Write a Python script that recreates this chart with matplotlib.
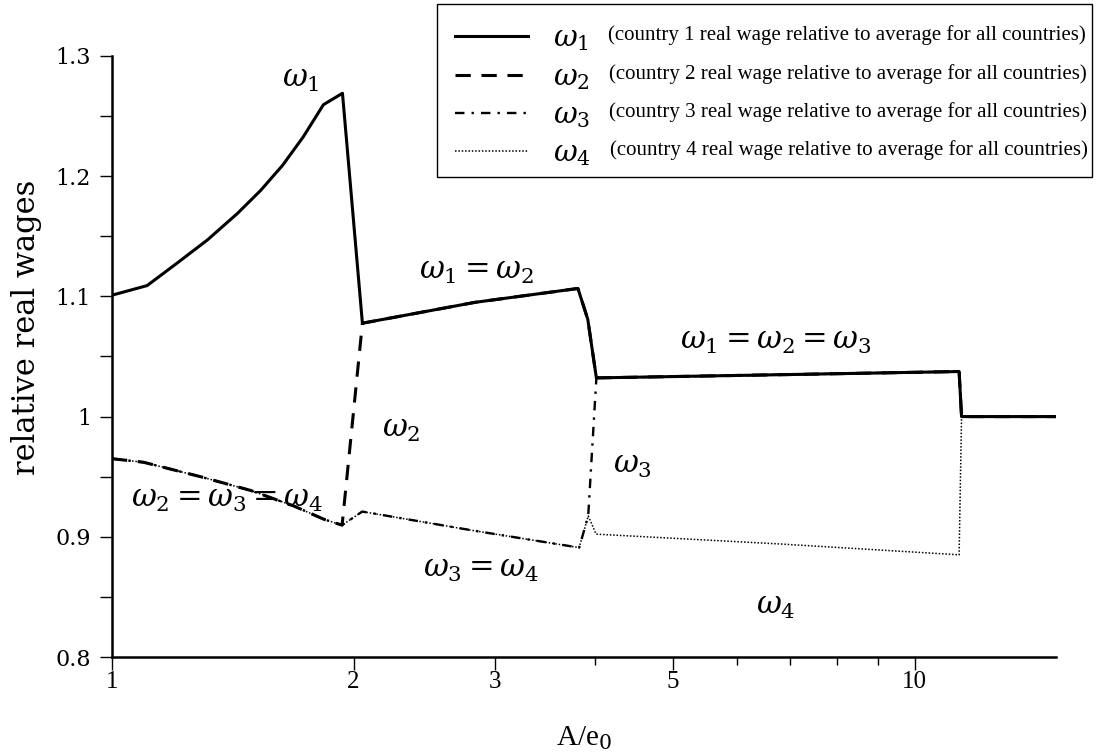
import matplotlib
matplotlib.use('Agg')
import matplotlib.pyplot as plt
from matplotlib.ticker import FixedLocator, NullFormatter, FixedFormatter
from matplotlib.patches import Rectangle

# segments (x = A/e0, y = relative real wage)
x_w1_alone = [1.0, 1.106, 1.207, 1.315, 1.433, 1.531, 1.631, 1.732, 1.834, 1.937]
y_w1_alone = [1.101, 1.109, 1.128, 1.147, 1.169, 1.188, 1.209, 1.233, 1.2595, 1.269]

x_w234 = [1.0, 1.095, 1.289, 1.488, 1.685, 1.836, 1.935]
y_w234 = [0.965, 0.962, 0.950, 0.9386, 0.9256, 0.9146, 0.9097]

x_w12 = [2.051, 2.83, 3.806, 3.915, 4.013]
y_w12 = [1.0777, 1.095, 1.1066, 1.081, 1.0322]

x_w34 = [2.05, 2.83, 3.82, 3.92]
y_w34 = [0.921, 0.905, 0.891, 0.9174]

x_w123 = [4.013, 7.0, 11.36]
y_w123 = [1.0322, 1.035, 1.0375]

x_w4_alone = [4.01, 6.81, 11.36]
y_w4_alone = [0.9022, 0.894, 0.885]

x_all = [11.44, 15.0]
y_all = [1.0, 1.0]

series_x = {
    1: x_w1_alone + x_w12 + x_w123 + x_all,
    2: x_w234 + x_w12 + x_w123 + x_all,
    3: x_w234 + x_w34 + x_w123 + x_all,
    4: x_w234 + x_w34 + x_w4_alone + x_all,
}
series_y = {
    1: y_w1_alone + y_w12 + y_w123 + y_all,
    2: y_w234 + y_w12 + y_w123 + y_all,
    3: y_w234 + y_w34 + y_w123 + y_all,
    4: y_w234 + y_w34 + y_w4_alone + y_all,
}

desc = ['(country %d real wage relative to average for all countries)' % i for i in range(1, 5)]

x_major = [1, 2, 3, 5, 10]
x_minor = [4, 6, 7, 8, 9]
y_major = [0.8, 0.9, 1.0, 1.1, 1.2, 1.3]
y_labels = ['0.8', '0.9', '1', '1.1', '1.2', '1.3']
y_minor = [0.85, 0.95, 1.05, 1.15, 1.25]

annots = [
    (r'$\omega_1$', 1.718, 1.281),
    (r'$\omega_1 = \omega_2$', 2.846, 1.1215),
    (r'$\omega_1 = \omega_2 = \omega_3$', 6.71, 1.0636),
    (r'$\omega_2$', 2.295, 0.990),
    (r'$\omega_3$', 4.45, 0.960),
    (r'$\omega_2 = \omega_3 = \omega_4$', 1.393, 0.9322),
    (r'$\omega_3 = \omega_4$', 2.879, 0.8736),
    (r'$\omega_4$', 6.72, 0.843),
]

plt.rcParams['mathtext.fontset'] = 'dejavuserif'
plt.rcParams['font.family'] = 'DejaVu Serif'

fig = plt.figure(figsize=(11.01, 7.54), dpi=100)
ax = fig.add_axes([112/1101, 97/754, 944/1101, 601/754])

styles = {
    1: dict(ls='-', lw=2.2),
    2: dict(ls=(0, (5, 3.5)), lw=2.2),
    3: dict(ls=(0, (4, 3, 1, 3)), lw=1.7),
    4: dict(ls=(0, (1, 1.2)), lw=1.1),
}
lines = []
for k in [4, 3, 2, 1]:
    ln, = ax.plot(series_x[k], series_y[k], color='black', **styles[k])
    lines.append(ln)
lines = lines[::-1]

ax.set_xscale('log')
ax.set_xlim(1, 15)
ax.set_ylim(0.8, 1.3)
for s in ['top', 'right']:
    ax.spines[s].set_visible(False)
for s in ['left', 'bottom']:
    ax.spines[s].set_linewidth(1.8)

ax.xaxis.set_major_locator(FixedLocator(x_major))
ax.xaxis.set_major_formatter(FixedFormatter([str(v) for v in x_major]))
ax.xaxis.set_minor_locator(FixedLocator(x_minor))
ax.xaxis.set_minor_formatter(NullFormatter())
ax.yaxis.set_major_locator(FixedLocator(y_major))
ax.yaxis.set_major_formatter(FixedFormatter(y_labels))
ax.yaxis.set_minor_locator(FixedLocator(y_minor))

ax.tick_params(axis='x', which='major', direction='out', length=9, width=1, pad=1)
ax.tick_params(axis='x', which='minor', direction='out', length=6, width=1)
ax.tick_params(axis='y', which='both', direction='out', length=9, width=1, pad=6)
for t in ax.get_xticklabels():
    t.set_fontfamily('Liberation Serif')
    t.set_fontsize(18)
for t in ax.get_yticklabels():
    t.set_fontsize(16)

ax.set_xlabel(r'A/e$_0$', fontsize=21, family='Liberation Serif')
ax.xaxis.set_label_coords(0.5, -0.112)
ax.set_ylabel('relative real wages', fontsize=22)
ax.yaxis.set_label_coords(-0.074, 0.548)

for txt, xv, yv in annots:
    ax.text(xv, yv, txt, fontsize=22, ha='center', va='center')

# legend box
fig.patches.append(Rectangle((437/1101, 1-177/754), 655/1101, 173/754,
                             transform=fig.transFigure, facecolor='white',
                             edgecolor='black', lw=1.0, zorder=5))
leg = fig.legend(lines, [r'$\omega_%d$' % i for i in range(1, 5)],
                 loc='upper left', bbox_to_anchor=(435/1101, 1-4/754),
                 frameon=False, fontsize=21, handlelength=2.5,
                 labelspacing=0.33, handletextpad=0.85, borderpad=0.2)
leg.set_zorder(6)
fig.canvas.draw()
inv = fig.transFigure.inverted()
for t, d in zip(leg.get_texts(), desc):
    bb = t.get_window_extent()
    x0, y0 = inv.transform((bb.x1 + 19, (bb.y0 + bb.y1) / 2 + 4))
    fig.text(x0, y0, d, fontsize=15, family='Liberation Serif',
             va='center', ha='left', zorder=7)

fig.savefig('out.png', dpi=100)
